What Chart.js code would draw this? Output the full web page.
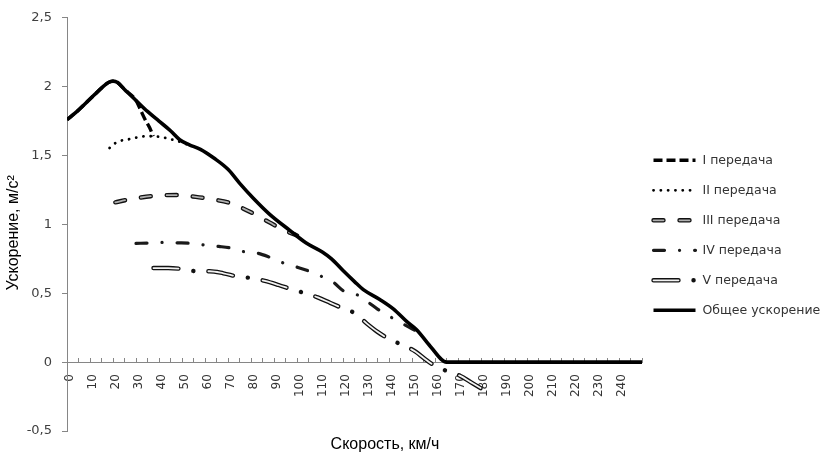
<!DOCTYPE html>
<html><head><meta charset="utf-8">
<script src="https://cdn.jsdelivr.net/npm/chart.js@4/dist/chart.umd.min.js"></script>
<style>html,body{margin:0;padding:0;background:#fff}#wrap{width:834px;height:457px}</style>
</head><body><div id="wrap"><canvas id="c"></canvas></div>
<script>
// ---- data ----
const seriesNames = ['I передача', 'II передача', 'III передача', 'IV передача', 'V передача', 'Общее ускорение'];
const xAxisTitle = 'Скорость, км/ч';
const yAxisTitle = 'Ускорение, м/с²';

const gear1Speed = [0, 5, 10, 15, 18, 20, 22, 25, 30, 32, 34, 36, 37.5];
const gear1Accel = [1.76, 1.83, 1.91, 1.99, 2.03, 2.04, 2.03, 1.98, 1.90, 1.83, 1.76, 1.70, 1.64];

const gear2Speed = [18.5, 21, 24, 27.5, 31, 34, 37, 40, 43.5, 47, 50, 53];
const gear2Accel = [1.555, 1.59, 1.61, 1.62, 1.633, 1.64, 1.64, 1.637, 1.625, 1.61, 1.595, 1.575];

const gear3Speed = [21, 26, 32, 40, 48, 56, 64, 70, 76, 82, 88, 94, 100];
const gear3Accel = [1.16, 1.178, 1.195, 1.21, 1.213, 1.20, 1.18, 1.16, 1.12, 1.07, 1.015, 0.96, 0.92];

const gear4Speed = [30, 36, 42, 48, 54, 60, 66, 72, 77.5, 83, 88, 94, 100, 105, 111, 116, 120, 126, 131, 135, 140.5, 146, 150, 153];
const gear4Accel = [0.862, 0.865, 0.869, 0.866, 0.862, 0.85, 0.84, 0.826, 0.80, 0.79, 0.762, 0.72, 0.69, 0.662, 0.62, 0.577, 0.52, 0.49, 0.434, 0.385, 0.33, 0.278, 0.242, 0.215];

const gear5Speed = [37.6, 44, 50.6, 56.5, 62, 68, 74.5, 80.4, 86, 92, 98, 103.6, 109, 114.5, 120, 125, 130.5, 135, 139.7, 145.6, 151.4, 155.5, 160, 166, 171, 175.5, 180];
const gear5Accel = [0.683, 0.683, 0.675, 0.66, 0.66, 0.645, 0.62, 0.61, 0.59, 0.56, 0.527, 0.50, 0.47, 0.43, 0.39, 0.356, 0.278, 0.22, 0.171, 0.126, 0.078, 0.025, -0.028, -0.07, -0.10, -0.145, -0.19];

const totalSpeed = [0, 5, 10, 15, 18, 20, 22, 25, 30, 35, 40, 45, 49, 53, 58, 64, 70, 75, 81, 88, 97, 104, 111, 115, 120, 125, 129, 136, 142, 148, 152, 158, 165, 250];
const totalAccel = [1.76, 1.83, 1.91, 1.99, 2.03, 2.04, 2.03, 1.98, 1.90, 1.82, 1.75, 1.68, 1.615, 1.58, 1.545, 1.48, 1.40, 1.30, 1.19, 1.075, 0.955, 0.865, 0.80, 0.75, 0.665, 0.585, 0.525, 0.455, 0.385, 0.29, 0.235, 0.114, 0, 0];

const xTickLabels = [0, 10, 20, 30, 40, 50, 60, 70, 80, 90, 100, 110, 120, 130, 140, 150, 160, 170, 180, 190, 200, 210, 220, 230, 240];
const yTickLabels = ['-0,5', '0', '0,5', '1', '1,5', '2', '2,5'];

function pts(xs, ys) { return xs.map((x, i) => ({ x: x, y: ys[i] })); }

const base = { pointRadius: 0, pointHoverRadius: 0, fill: false, cubicInterpolationMode: 'monotone' };

const datasets = [
  Object.assign({ label: seriesNames[5], data: pts(totalSpeed, totalAccel), borderColor: '#000', borderWidth: 3.6, borderCapStyle: 'butt', order: 0 }, base),
  Object.assign({ label: seriesNames[0], data: pts(gear1Speed, gear1Accel), borderColor: '#000', borderWidth: 3.4, borderDash: [9, 4], borderCapStyle: 'butt', order: 10 }, base),
  Object.assign({ label: seriesNames[1], data: pts(gear2Speed, gear2Accel), borderColor: '#000', borderWidth: 2.8, borderDash: [0.1, 7.2], borderCapStyle: 'round', order: 9 }, base),
  Object.assign({ label: seriesNames[2] + ' (inner)', data: pts(gear3Speed, gear3Accel), borderColor: '#b0b0b0', borderWidth: 1.8, borderDash: [10, 16], borderCapStyle: 'round', order: 5 }, base),
  Object.assign({ label: seriesNames[2], data: pts(gear3Speed, gear3Accel), borderColor: '#111', borderWidth: 4.4, borderDash: [10, 16], borderCapStyle: 'round', order: 6 }, base),
  Object.assign({ label: seriesNames[3], data: pts(gear4Speed, gear4Accel), borderColor: '#1a1a1a', borderWidth: 3.2, borderDash: [11, 15, 0.1, 15], borderCapStyle: 'round', order: 7 }, base),
  Object.assign({ label: seriesNames[4] + ' (inner)', data: pts(gear5Speed, gear5Accel), borderColor: '#f2f2f2', borderWidth: 1.8, borderDash: [25, 30.1], borderCapStyle: 'round', order: 3 }, base),
  Object.assign({ label: seriesNames[4], data: pts(gear5Speed, gear5Accel), borderColor: '#111', borderWidth: 4.4, borderDash: [25, 15, 0.1, 15], borderCapStyle: 'round', order: 4 }, base)
];

const legendEntries = [
  { label: seriesNames[0], sets: [1] },
  { label: seriesNames[1], sets: [2] },
  { label: seriesNames[2], sets: [4, 3] },
  { label: seriesNames[3], sets: [5] },
  { label: seriesNames[4], sets: [7, 6] },
  { label: seriesNames[5], sets: [0] }
];

const overlayPlugin = {
  id: 'overlay',
  afterDraw(chart) {
    const ctx = chart.ctx, a = chart.chartArea;
    ctx.save();
    const x0 = a.right + 11.5, y0 = a.top + 142.5, step = 30;
    legendEntries.forEach((e, i) => {
      const y = y0 + i * step;
      e.sets.forEach(di => {
        const ds = chart.data.datasets[di];
        ctx.beginPath();
        ctx.strokeStyle = ds.borderColor;
        ctx.lineWidth = ds.borderWidth;
        ctx.setLineDash(ds.borderDash || []);
        ctx.lineCap = ds.borderCapStyle || 'butt';
        ctx.moveTo(x0, y); ctx.lineTo(x0 + 42, y); ctx.stroke();
      });
      ctx.setLineDash([]);
      ctx.fillStyle = '#333';
      ctx.font = '12.5px "DejaVu Sans"';
      ctx.textBaseline = 'middle';
      ctx.textAlign = 'left';
      ctx.fillText(e.label, x0 + 49, y + 0.5);
    });
    // axis titles
    ctx.fillStyle = '#000';
    ctx.font = '16px "Liberation Sans"';
    ctx.textAlign = 'center';
    ctx.textBaseline = 'middle';
    ctx.fillText(xAxisTitle, a.left + 318, a.bottom + 14);
    ctx.translate(a.left - 53, (a.top + a.bottom) / 2 + 8.5);
    ctx.rotate(-Math.PI / 2);
    ctx.fillText(yAxisTitle, 0, 0);
    ctx.restore();
  }
};

new Chart(document.getElementById('c'), {
  type: 'line',
  data: { datasets: datasets },
  plugins: [overlayPlugin],
  options: {
    responsive: true,
    maintainAspectRatio: false,
    animation: false,
    devicePixelRatio: 1,
    layout: { padding: { left: 0, right: 192, top: 10, bottom: 26 } },
    plugins: { legend: { display: false }, tooltip: { enabled: false } },
    scales: {
      x: {
        type: 'linear',
        min: 0, max: 250,
        position: { y: 0 },
        border: { display: true, color: '#868686', width: 1 },
        grid: { drawOnChartArea: false, drawTicks: true, tickLength: -5, color: '#868686' },
        ticks: {
          stepSize: 5, maxTicksLimit: 100, autoSkip: false,
          minRotation: 90, maxRotation: 90, padding: 17, labelOffset: 3,
          color: '#333', font: { family: 'DejaVu Sans', size: 12 },
          callback: (v) => xTickLabels.includes(v) ? String(v) : ''
        }
      },
      y: {
        type: 'linear',
        min: -0.5, max: 2.5,
        position: 'left',
        afterFit: (s) => { s.width = 67; },
        border: { display: true, color: '#868686', width: 1 },
        grid: { drawOnChartArea: false, drawTicks: true, tickLength: 5, color: '#868686' },
        ticks: {
          stepSize: 0.5, padding: 10,
          color: '#404040', font: { family: 'DejaVu Sans', size: 13 },
          callback: (v) => yTickLabels[Math.round((v + 0.5) * 2)]
        }
      }
    }
  }
});
</script>
</body></html>
